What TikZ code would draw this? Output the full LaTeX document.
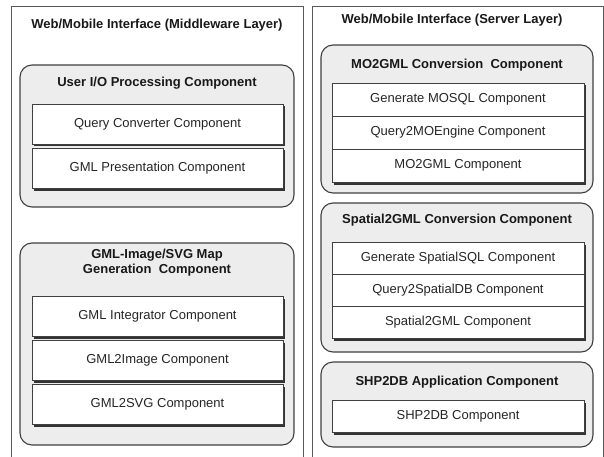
\documentclass[tikz,border=0pt]{standalone}
\usepackage{fontspec}
\setmainfont{Liberation Sans}
\usetikzlibrary{positioning}
\usetikzlibrary{shadows}
\tikzset{every picture/.style={line width=1pt},
  panel/.style={draw=black!65,fill=white,line width=0.9pt,outer sep=0pt},
  grp/.style={draw=black!75,fill=black!7,rounded corners=12pt,line width=1.1pt,outer sep=0pt},
  grptitle/.style={font=\fontsize{13}{15}\selectfont\bfseries,align=center,text=black!90},
  comp/.style={draw=black!75,fill=white,line width=0.8pt,inner sep=0pt,outer sep=0pt,
    font=\fontsize{13}{15}\selectfont,text=black!85,
    drop shadow={shadow xshift=1.5pt,shadow yshift=-2.5pt,fill=black!80,opacity=1}}}

\begin{document}
\begin{tikzpicture}[x=1pt,y=-1pt]
\useasboundingbox (0,0) rectangle (604,457);

% the two layers
\node (left) at (157,238) [panel,minimum width=292pt,minimum height=464pt] {};
\node (right) at (457.5,238) [panel,minimum width=291pt,minimum height=464pt] {};
\node (lt) at (157,25) [grptitle] {Web/Mobile Interface (Middleware Layer)};
\node (rt) at (452,20) [grptitle] {Web/Mobile Interface (Server Layer)};

% middleware layer
\node (g1) at (157,136) [grp,minimum width=274pt,minimum height=142pt] {};
\node (g1t) at (157,83) [grptitle] {User I/O Processing Component};
\node (q1) at (157.5,124) [comp,minimum width=251pt,minimum height=40pt] {Query Converter Component};
\node (q2) [comp,minimum width=251pt,minimum height=40pt,below=4pt of q1] {GML Presentation Component};

\node (g2) at (157,344) [grp,minimum width=274pt,minimum height=202pt] {};
\node (g2t) at (157,263) [grptitle] {GML-Image/SVG Map\\Generation\ \ Component};
\node (i1) at (157.5,316) [comp,minimum width=251pt,minimum height=40pt] {GML Integrator Component};
\node (i2) [comp,minimum width=251pt,minimum height=40pt,below=4pt of i1] {GML2Image Component};
\node (i3) [comp,minimum width=251pt,minimum height=40pt,below=4pt of i2] {GML2SVG Component};

% server layer
\node (g3) at (457,119) [grp,minimum width=272pt,minimum height=148pt] {};
\node (g3t) at (457,65) [grptitle] {MO2GML Conversion\ \ Component};
\node (m1) at (458,99.5) [comp,minimum width=252pt,minimum height=33pt] {Generate MOSQL Component};
\node (m2) [comp,minimum width=252pt,minimum height=33pt,below=0pt of m1] {Query2MOEngine Component};
\node (m3) [comp,minimum width=252pt,minimum height=33pt,below=0pt of m2] {MO2GML Component};

\node (g4) at (457,277.5) [grp,minimum width=272pt,minimum height=149pt] {};
\node (g4t) at (457,220) [grptitle] {Spatial2GML Conversion Component};
\node (s1) at (458,258) [comp,minimum width=252pt,minimum height=32pt] {Generate SpatialSQL Component};
\node (s2) [comp,minimum width=252pt,minimum height=32pt,below=0pt of s1] {Query2SpatialDB Component};
\node (s3) [comp,minimum width=252pt,minimum height=32pt,below=0pt of s2] {Spatial2GML Component};

\node (g5) at (457,404.5) [grp,minimum width=272pt,minimum height=85pt] {};
\node (g5t) at (457,382) [grptitle] {SHP2DB Application Component};
\node (h1) at (458,416) [comp,minimum width=252pt,minimum height=32pt] {SHP2DB Component};
\end{tikzpicture}
\end{document}
